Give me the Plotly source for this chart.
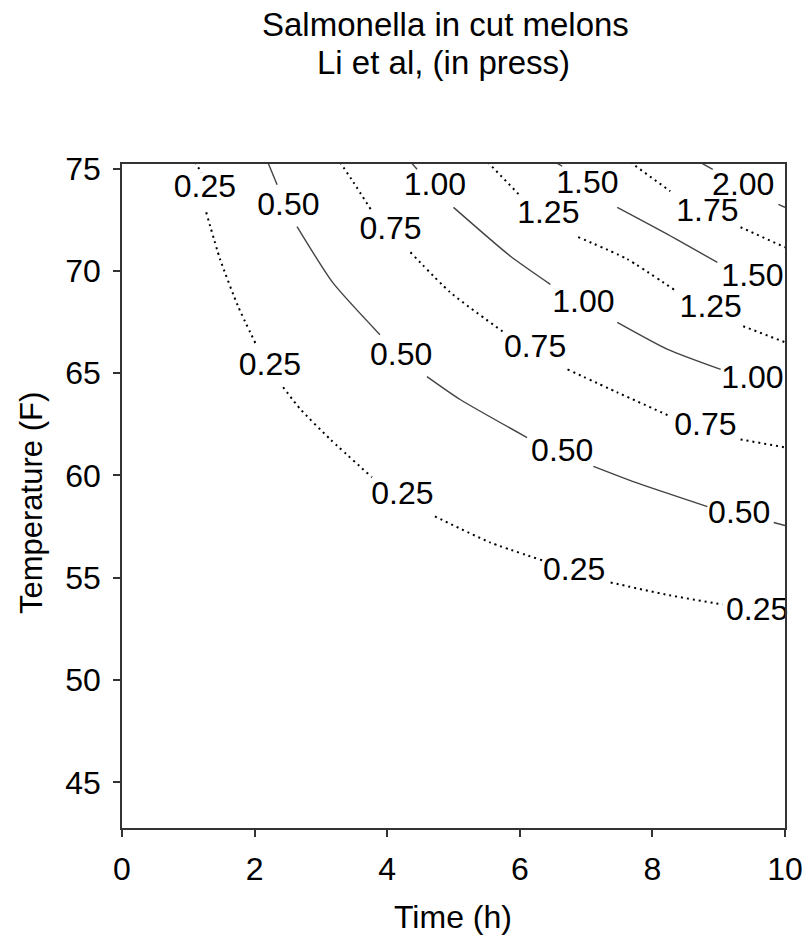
import plotly.graph_objects as go

# Contour levels (log growth) and line styles
levels = ["0.25", "0.50", "0.75", "1.00", "1.25", "1.50", "1.75", "2.00"]

# Contour polylines (Time h, Temperature F); None = gap where a label sits
c025_t = [1.10, 1.20, None, 1.27, 1.48, 1.75, 2.02, None, 2.43, 2.69, 3.14, 3.77, None, 4.72, 5.55, 6.34, None, 7.37, 8.20, 9.06]
c025_T = [75.3, 74.8, None, 72.86, 70.56, 68.27, 66.41, None, 64.31, 63.24, 61.77, 59.91, None, 58.0, 56.73, 55.85, None, 54.77, 54.18, 53.69]
c050_t = [2.20, 2.34, None, 2.64, 3.18, 3.89, None, 4.60, 5.10, 6.11, None, 7.11, 7.71, 8.83, None, 9.83, 10.0]
c050_T = [75.3, 74.21, None, 72.16, 69.42, 66.88, None, 64.83, 63.71, 61.85, None, 60.44, 59.70, 58.48, None, 57.70, 57.55]
c075_t = [3.29, 3.49, 3.77, None, 4.35, 4.95, 5.74, None, 6.72, 7.47, 8.27, None, 9.33, 10.0]
c075_T = [75.3, 74.33, 72.91, None, 70.91, 68.95, 67.04, None, 65.18, 64.06, 62.89, None, 61.76, 61.37]
c100_t = [4.36, 4.45, None, 5.0, 5.86, 6.46, None, 7.47, 8.23, 9.03]
c100_T = [75.3, 74.96, None, 73.10, 70.71, 69.34, None, 67.48, 66.16, 65.18]
c125_t = [5.52, 5.98, None, 6.88, 7.62, 8.38, None, 9.37, 10.0]
c125_T = [75.3, 73.75, None, 71.65, 70.57, 68.96, None, 67.29, 66.51]
c150_t = [6.54, 6.64, None, 7.47, 8.23, 8.98]
c150_T = [75.3, 75.11, None, 73.10, 71.78, 70.41]
c175_t = [7.67, 8.27, None, 9.33, 10.0]
c175_T = [75.3, 73.89, None, 72.13, 71.15]
c200_t = [8.72, 8.91, None, 9.90, 10.0]
c200_T = [75.3, 74.96, None, 73.25, 73.10]

# Contour label positions
lab025_t = [1.25, 2.23, 4.23, 6.82, 9.58]
lab025_T = [74.0, 65.29, 58.98, 55.26, 53.35]
lab050_t = [2.51, 4.21, 6.64, 9.31]
lab050_T = [73.14, 65.81, 61.12, 58.09]
lab075_t = [4.05, 6.23, 8.80]
lab075_T = [71.93, 66.16, 62.35]
lab100_t = [4.72, 6.96, 9.51]
lab100_T = [74.08, 68.36, 64.65]
lab125_t = [6.43, 8.88]
lab125_T = [72.72, 68.12]
lab150_t = [7.02, 9.51]
lab150_T = [74.18, 69.63]
lab175_t = [8.83]
lab175_T = [72.85]
lab200_t = [9.37]
lab200_T = [74.08]

x_ticks = [0, 2, 4, 6, 8, 10]
y_ticks = [45, 50, 55, 60, 65, 70, 75]

lines = [(c025_t, c025_T), (c050_t, c050_T), (c075_t, c075_T), (c100_t, c100_T),
         (c125_t, c125_T), (c150_t, c150_T), (c175_t, c175_T), (c200_t, c200_T)]
labels = [(lab025_t, lab025_T), (lab050_t, lab050_T), (lab075_t, lab075_T), (lab100_t, lab100_T),
          (lab125_t, lab125_T), (lab150_t, lab150_T), (lab175_t, lab175_T), (lab200_t, lab200_T)]

FONT = "Liberation Sans, Arial, sans-serif"
fig = go.Figure()
for i, (lv, (xs, ys)) in enumerate(zip(levels, lines)):
    dotted = (i % 2 == 0)
    fig.add_trace(go.Scatter(
        x=xs, y=ys, mode="lines", connectgaps=False, showlegend=False, hoverinfo="skip",
        line=dict(color="#000000" if dotted else "#444444",
                  width=2.0 if dotted else 1.4,
                  dash="2px,4px" if dotted else "solid", shape="spline", smoothing=0.6)))
for lv, (xs, ys) in zip(levels, labels):
    fig.add_trace(go.Scatter(
        x=xs, y=ys, mode="text", text=[lv] * len(xs), cliponaxis=False,
        textposition="middle center", showlegend=False, hoverinfo="skip",
        textfont=dict(family=FONT, size=32, color="#000000")))

axis_common = dict(showline=True, mirror=True, linecolor="#333333", linewidth=1.5,
                   ticks="outside", ticklen=7, tickwidth=1.5, tickcolor="#333333",
                   showgrid=False, zeroline=False, automargin=False,
                   tickfont=dict(family=FONT, size=32, color="#000000"))
fig.update_xaxes(range=[0, 10], tickvals=x_ticks, ticklabelstandoff=5, **axis_common)
fig.update_yaxes(range=[42.77, 75.22], tickvals=y_ticks, ticklabelstandoff=6, **axis_common)

W, H = 806, 941
L, R, T, B = 122, 21, 164, 113
pw, ph = W - L - R, H - T - B
def px(x):
    return (x - L) / pw
def py(y):
    return (H - B - y) / ph

fig.add_annotation(text="Salmonella in cut melons", xref="paper", yref="paper",
                   x=px(445), y=py(24), showarrow=False, xanchor="center", yanchor="middle",
                   font=dict(family=FONT, size=33, color="#000000"))
fig.add_annotation(text="Li et al, (in press)", xref="paper", yref="paper",
                   x=px(443), y=py(62), showarrow=False, xanchor="center", yanchor="middle",
                   font=dict(family=FONT, size=33, color="#000000"))
fig.add_annotation(text="Time (h)", xref="paper", yref="paper",
                   x=px(453), y=py(917), showarrow=False, xanchor="center", yanchor="middle",
                   font=dict(family=FONT, size=32, color="#000000"))
fig.add_annotation(text="Temperature (F)", xref="paper", yref="paper", textangle=-90,
                   x=px(31), y=py(503), showarrow=False, xanchor="center", yanchor="middle",
                   font=dict(family=FONT, size=31, color="#000000"))

fig.update_layout(width=W, height=H, margin=dict(l=L, r=R, t=T, b=B, autoexpand=False),
                  paper_bgcolor="white", plot_bgcolor="white")
fig.write_html("out.html")
